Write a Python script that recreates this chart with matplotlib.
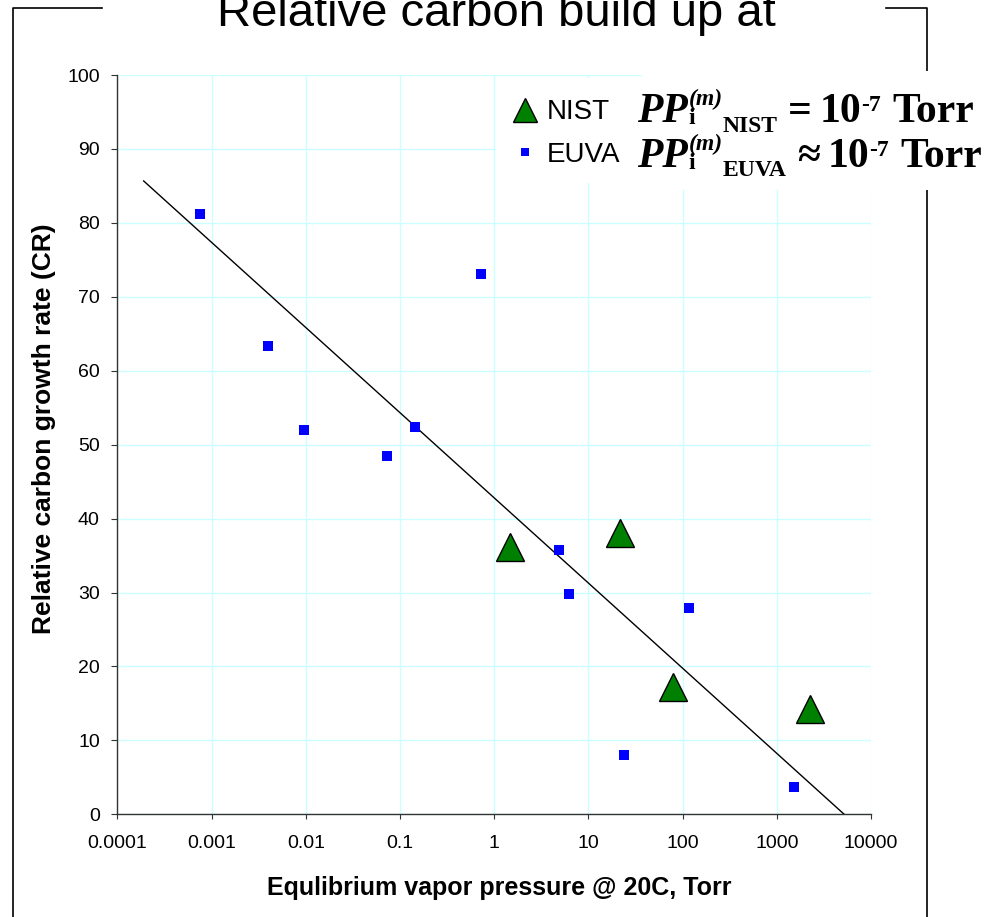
import numpy as np
import matplotlib
matplotlib.use('Agg')
import matplotlib.pyplot as plt
from matplotlib.lines import Line2D
from matplotlib.patches import Rectangle

# data
nist_x = [1.46, 21.4, 79, 2250]
nist_y = [36.1, 38.1, 17.2, 14.2]
euva_x = [7.6e-4, 4.0e-3, 9.6e-3, 0.0735, 0.146, 0.72, 4.85, 6.25, 23.7, 118, 1520]
euva_y = [81.2, 63.4, 52.0, 48.5, 52.4, 73.1, 35.8, 29.8, 8.05, 27.9, 3.7]

# log trendline y = a + b*log10(x)
trend_a = 42.8
trend_b = -11.52
trend_x_range = [1.9e-4, 5200]

x_ticks = [1e-4, 1e-3, 1e-2, 1e-1, 1, 10, 100, 1000, 10000]
x_tick_labels = ['0.0001', '0.001', '0.01', '0.1', '1', '10', '100', '1000', '10000']
y_ticks = list(range(0, 101, 10))

plt.rcParams['font.family'] = ['Liberation Sans', 'DejaVu Sans']
serif = ['Liberation Serif', 'DejaVu Serif']

W, H = 998, 917
fig = plt.figure(figsize=(W / 100, H / 100), dpi=100)

def fx(px):
    return px / W

def fy(py):
    return 1 - py / H

# plot area
left, right, top, bottom = 117.4, 871.0, 75.0, 814.3
ax = fig.add_axes([fx(left), fy(bottom), fx(right - left), (bottom - top) / H])
ax.set_xscale('log')
ax.set_xlim(1e-4, 1e4)
ax.set_ylim(0, 100)

grid_col = '#ccffff'
ax.set_xticks(x_ticks)
ax.set_xticklabels(x_tick_labels)
ax.xaxis.set_minor_locator(matplotlib.ticker.NullLocator())
ax.set_yticks(y_ticks)
ax.grid(True, color=grid_col, linewidth=1.0)
ax.set_axisbelow(True)
for s in ['top', 'right']:
    ax.spines[s].set_visible(False)
for s in ['left', 'bottom']:
    ax.spines[s].set_color('#333333')
    ax.spines[s].set_linewidth(1.0)
ax.tick_params(axis='y', direction='out', length=4.3, width=0.8, color='#333333',
               labelsize=14, pad=8.4)
ax.tick_params(axis='x', direction='out', length=3.6, width=0.8, color='#333333',
               labelsize=14, pad=11.5)

# trendline
tx = np.logspace(np.log10(trend_x_range[0]), np.log10(trend_x_range[1]), 50)
ax.plot(tx, trend_a + trend_b * np.log10(tx), color='black', linewidth=1.0, zorder=3)

ax.plot(euva_x, euva_y, linestyle='none', marker='s', markersize=7.2,
        color='#0000ff', markeredgewidth=0, zorder=4)
ax.plot(nist_x, nist_y, linestyle='none', marker='^', markersize=20,
        markerfacecolor='#008000', markeredgecolor='black', markeredgewidth=1.0, zorder=5)

ax.set_xlabel('Equlibrium vapor pressure @ 20C, Torr', fontsize=18, fontweight='bold')
ax.xaxis.set_label_coords((499.5 - left) / (right - left), (bottom - 888) / (bottom - top))
ax.xaxis.label.set_va('center')
ax.set_ylabel('Relative carbon growth rate (CR)', fontsize=19, fontweight='bold')
ax.yaxis.set_label_coords((44 - left) / (right - left), (bottom - 428.5) / (bottom - top))
ax.yaxis.label.set_va('center')

# title (cut off at the top like the source slide)
fig.text(fx(496.5), fy(26), 'Relative carbon build up at', fontsize=34,
         ha='center', va='baseline')

# outer frame lines
frame_kw = dict(color='black', linewidth=1.2, zorder=2)
fig.add_artist(Line2D([fx(12.7), fx(12.7), fx(101.7)], [0, fy(8.3), fy(8.3)], **frame_kw))
fig.add_artist(Line2D([fx(886), fx(926.7), fx(926.7)], [fy(8.3), fy(8.3), 0], **frame_kw))

# white boxes behind legend and formula
fig.add_artist(Rectangle((fx(496), fy(183)), fx(642 - 496), (183 - 78) / H,
                         facecolor='white', edgecolor='none', zorder=2.5))
fig.add_artist(Rectangle((fx(642), fy(190)), fx(998 - 642), (190 - 71) / H,
                         facecolor='white', edgecolor='none', zorder=2.5))

handles = [
    Line2D([], [], linestyle='none', marker='^', markersize=17,
           markerfacecolor='#008000', markeredgecolor='black', markeredgewidth=1.0),
    Line2D([], [], linestyle='none', marker='s', markersize=5.5,
           color='#0000ff', markeredgewidth=0),
]
leg = fig.legend(handles, ['NIST', 'EUVA'], loc='center left',
                 bbox_to_anchor=(fx(514), fy(133.5)), frameon=False, fontsize=20,
                 handlelength=0.8, handletextpad=0.39, labelspacing=0.58,
                 borderpad=0, borderaxespad=0)
leg.set_zorder(4)

# formula next to the legend, set piece by piece:
# (text, baseline shift px, size, italic, gap after px, advance?)
big, small = 30, 17
def formula(source, rel):
    return [
        ('PP', 0, big, True, 1, True),
        ('(m)', -17, small, True, 0, False),
        ('i', 2, small, False, 0, True),
        (source, 9.5, small, False, 10, True),
        (rel, 0, big, False, 8, True),
        ('10', 0, big, False, 0, True),
        ('-7', -11, small, False, 11, True),
        ('Torr', 0, big, False, 0, True),
    ]

renderer = fig.canvas.get_renderer()
for pieces, base in [(formula('NIST', '='), 122), (formula('EUVA', '\u2248'), 167)]:
    cur = 637.0
    pending = 0.0
    for txt, dy, size, ital, gap, adv in pieces:
        t = fig.text(fx(cur), fy(base + dy), txt, fontsize=size, family=serif,
                     fontweight='bold', fontstyle='italic' if ital else 'normal',
                     ha='left', va='baseline', zorder=5)
        w = t.get_window_extent(renderer).width
        if adv:
            cur += max(w, pending) + gap
            pending = 0.0
        else:
            pending = w

fig.savefig('out.png', dpi=100)
